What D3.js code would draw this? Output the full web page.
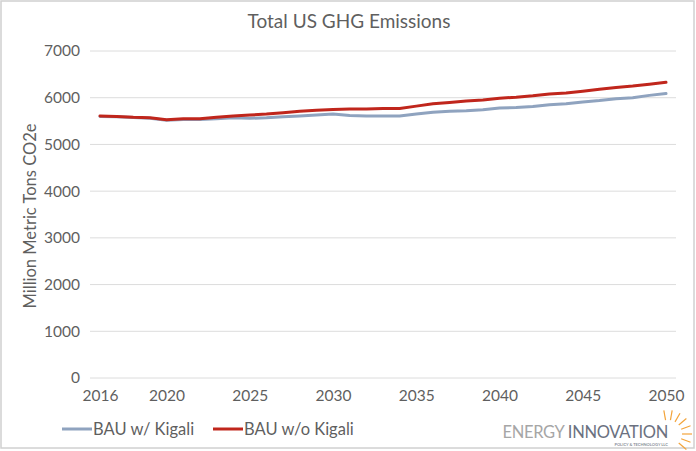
<!DOCTYPE html>
<html>
<head>
<meta charset="utf-8">
<script src="https://cdn.jsdelivr.net/npm/d3@7"></script>
<style>
  body { margin: 0; background: #fff; }
  svg { display: block; font-family: "Lato", "DejaVu Sans", sans-serif; }
</style>
</head>
<body>
<svg width="696" height="451"></svg>
<script>
// years on the category axis
var years = d3.range(2016, 2051);
var xTickLabels = [2016, 2020, 2025, 2030, 2035, 2040, 2045, 2050];
var yTicks = [0, 1000, 2000, 3000, 4000, 5000, 6000, 7000];

// BAU w/ Kigali (million metric tons CO2e)
var withKigali = [5600, 5590, 5575, 5560, 5520, 5535, 5535, 5550, 5570, 5560,
  5570, 5590, 5610, 5630, 5650, 5620, 5610, 5610, 5610, 5650,
  5690, 5710, 5720, 5740, 5780, 5790, 5810, 5850, 5870, 5910,
  5940, 5980, 6000, 6050, 6090];

// BAU w/o Kigali
var withoutKigali = [5610, 5600, 5580, 5570, 5530, 5550, 5550, 5580, 5610, 5630,
  5650, 5680, 5710, 5730, 5750, 5760, 5760, 5770, 5770, 5820,
  5870, 5900, 5930, 5950, 5990, 6010, 6040, 6080, 6100, 6140,
  6180, 6220, 6250, 6290, 6330];

var seriesNames = ['BAU w/ Kigali', 'BAU w/o Kigali'];
var seriesColors = ['#8fa3bf', '#c0261c'];

var svg = d3.select('svg');
var textColor = '#5f5f5f';
var font = '"Lato", "DejaVu Sans", sans-serif';

// outer frame
svg.append('rect').attr('x', 1).attr('y', 1).attr('width', 693).attr('height', 447)
  .attr('fill', 'none').attr('stroke', '#d0d0d0').attr('stroke-width', 1.5);

var x = d3.scaleLinear().domain([2016, 2050]).range([100, 666]);
var y = d3.scaleLinear().domain([0, 7000]).range([378, 51]);

// gridlines
svg.append('g').selectAll('line').data(yTicks).enter().append('line')
  .attr('x1', 90).attr('x2', 676)
  .attr('y1', function(d) { return y(d); }).attr('y2', function(d) { return y(d); })
  .attr('stroke', '#dcdcdc').attr('stroke-width', 1);

// y axis labels
var yAxis = d3.axisLeft(y).tickValues(yTicks).tickFormat(d3.format('d')).tickSize(0).tickPadding(0);
var gy = svg.append('g').attr('transform', 'translate(80,0)').call(yAxis);
gy.select('.domain').remove();
gy.selectAll('text').attr('fill', textColor).style('font-size', '15.5px').style('font-family', font);

// x axis labels
var xAxis = d3.axisBottom(x).tickValues(xTickLabels).tickFormat(d3.format('d')).tickSize(0).tickPadding(0);
var gx = svg.append('g').attr('transform', 'translate(0,390)').call(xAxis);
gx.select('.domain').remove();
gx.selectAll('text').attr('fill', textColor).style('font-size', '15.5px').style('font-family', font);

// title
svg.append('text').attr('x', 349).attr('y', 28).attr('text-anchor', 'middle')
  .attr('fill', textColor).style('font-size', '19px').text('Total US GHG Emissions');

// y axis title
svg.append('text').attr('transform', 'translate(36,216) rotate(-90)')
  .attr('text-anchor', 'middle').attr('fill', textColor).style('font-size', '16.5px')
  .text('Million Metric Tons CO2e');

// lines
var line = d3.line()
  .x(function(d, i) { return x(years[i]); })
  .y(function(d) { return y(d); });

[withKigali, withoutKigali].forEach(function(s, k) {
  svg.append('path').datum(s).attr('d', line)
    .attr('fill', 'none').attr('stroke', seriesColors[k])
    .attr('stroke-width', 3).attr('stroke-linejoin', 'round').attr('stroke-linecap', 'round');
});

// legend
var legendX = [62, 213];
seriesNames.forEach(function(n, k) {
  svg.append('line').attr('x1', legendX[k]).attr('x2', legendX[k] + 30)
    .attr('y1', 429).attr('y2', 429).attr('stroke', seriesColors[k]).attr('stroke-width', 3);
  svg.append('text').attr('x', legendX[k] + 31).attr('y', 435)
    .attr('fill', textColor).style('font-size', '16.5px').text(n);
});

// logo
var logo = svg.append('g');
logo.append('text').attr('x', 668).attr('y', 438).attr('text-anchor', 'end')
  .style('font-size', '16.5px').style('letter-spacing', '-0.3px')
  .html('<tspan fill="#a6a6a6">ENERGY </tspan><tspan fill="#6b7180">INNOVATION</tspan>');
logo.append('text').attr('x', 668).attr('y', 446).attr('text-anchor', 'end')
  .attr('fill', '#8a8f99').style('font-size', '4px').style('font-weight', 'bold')
  .text('POLICY & TECHNOLOGY LLC');
var rays = d3.range(8).map(function(i) { return -100 + i * 20; });
logo.append('g').attr('transform', 'translate(668,434)').selectAll('line').data(rays).enter()
  .append('line')
  .attr('x1', function(a) { return 14 * Math.cos(a * Math.PI / 180); })
  .attr('y1', function(a) { return 14 * Math.sin(a * Math.PI / 180); })
  .attr('x2', function(a) { return 24 * Math.cos(a * Math.PI / 180); })
  .attr('y2', function(a) { return 24 * Math.sin(a * Math.PI / 180); })
  .attr('stroke', '#f3a43b').attr('stroke-width', 1.2);
</script>
</body>
</html>
